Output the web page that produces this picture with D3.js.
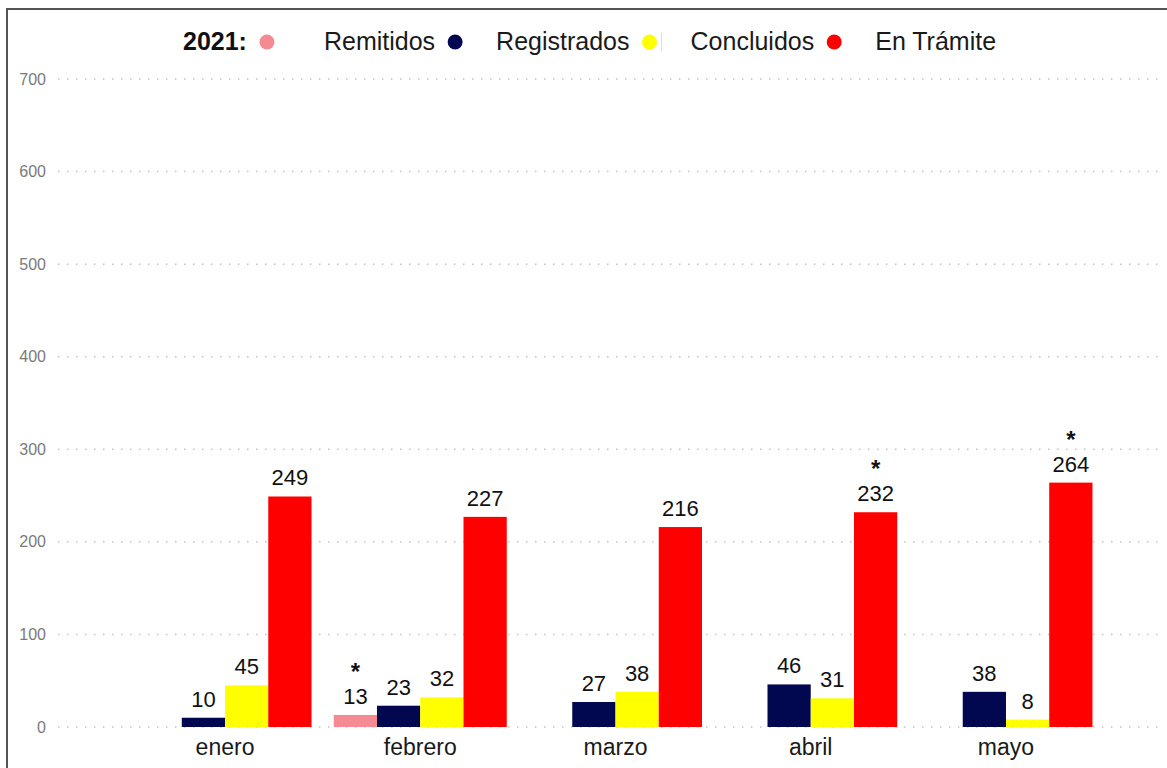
<!DOCTYPE html>
<html>
<head>
<meta charset="utf-8">
<script src="https://cdn.jsdelivr.net/npm/d3@7/dist/d3.min.js"></script>
<style>
  html, body { margin: 0; padding: 0; background: #fff; }
  svg { display: block; font-family: "Liberation Sans", Arial, sans-serif; }
</style>
</head>
<body>
<script>
// datos del gráfico
const months = ['enero', 'febrero', 'marzo', 'abril', 'mayo'];
const seriesNames = ['Remitidos', 'Registrados', 'Concluidos', 'En Trámite'];
const seriesColors = ['#f68a92', '#020850', '#ffff00', '#ff0000'];
const remitidos = [0, 13, 0, 0, 0];
const registrados = [10, 23, 27, 46, 38];
const concluidos = [45, 32, 38, 31, 8];
const enTramite = [249, 227, 216, 232, 264];
// marcas con asterisco: [serie, mes]
const starred = [['Remitidos', 'febrero'], ['En Trámite', 'abril'], ['En Trámite', 'mayo']];
const yTicks = [0, 100, 200, 300, 400, 500, 600, 700];
const legendTitle = '2021:';

const values = [remitidos, registrados, concluidos, enTramite];

const width = 1167, height = 768;
const svg = d3.select('body').append('svg')
    .attr('width', width)
    .attr('height', height);

// marco
svg.append('rect')
    .attr('x', 7).attr('y', 9)
    .attr('width', width + 10).attr('height', height + 10)
    .attr('fill', 'none')
    .attr('stroke', '#555')
    .attr('stroke-width', 2);

// escalas
const y = d3.scaleLinear().domain([0, 700]).range([727, 79]);
const x0 = d3.scaleBand().domain(months).range([127.4, 1103.6])
    .paddingInner(0.114).paddingOuter(0.057);
const x1 = d3.scaleBand().domain(seriesNames).range([0, x0.bandwidth()]);

// líneas de cuadrícula punteadas
const grid = svg.append('g');
grid.selectAll('line')
    .data(yTicks)
    .enter().append('line')
    .attr('x1', 58).attr('x2', 1162)
    .attr('y1', d => y(d)).attr('y2', d => y(d))
    .attr('stroke', '#c4c4c4')
    .attr('stroke-width', 1.5)
    .attr('stroke-dasharray', '1.5,7.5');

// eje Y
const yAxis = svg.append('g')
    .attr('transform', 'translate(46,0)')
    .call(d3.axisLeft(y).tickValues(yTicks).tickSize(0).tickPadding(0));
yAxis.select('.domain').remove();
yAxis.selectAll('text')
    .attr('font-size', 16)
    .attr('font-family', '"Liberation Sans", Arial, sans-serif')
    .attr('fill', '#7a7a7a');

// eje X
const xAxis = svg.append('g')
    .attr('transform', `translate(0,${y(0)})`)
    .call(d3.axisBottom(x0).tickSize(0).tickPadding(12));
xAxis.select('.domain').remove();
xAxis.selectAll('text')
    .attr('font-size', 23)
    .attr('font-family', '"Liberation Sans", Arial, sans-serif')
    .attr('fill', '#1a1a1a')
    .attr('dy', '0.71em');

// datos planos
const flat = [];
months.forEach((m, i) => {
    seriesNames.forEach((s, j) => {
        flat.push({
            month: m, series: s, value: values[j][i], color: seriesColors[j],
            star: starred.some(p => p[0] === s && p[1] === m)
        });
    });
});
const shown = flat.filter(d => d.value > 0);

// barras
svg.append('g').selectAll('rect')
    .data(shown)
    .enter().append('rect')
    .attr('x', d => x0(d.month) + x1(d.series))
    .attr('y', d => y(d.value))
    .attr('width', x1.bandwidth())
    .attr('height', d => y(0) - y(d.value))
    .attr('fill', d => d.color);

// etiquetas de valor
const labels = svg.append('g')
    .attr('font-size', 22)
    .attr('fill', '#111')
    .attr('text-anchor', 'middle');
labels.selectAll('text.val')
    .data(shown)
    .enter().append('text')
    .attr('class', 'val')
    .attr('x', d => x0(d.month) + x1(d.series) + x1.bandwidth() / 2)
    .attr('y', d => y(d.value) - 11)
    .text(d => d.value);
labels.selectAll('text.star')
    .data(shown.filter(d => d.star))
    .enter().append('text')
    .attr('class', 'star')
    .attr('font-size', 24)
    .attr('font-weight', 'bold')
    .attr('x', d => x0(d.month) + x1(d.series) + x1.bandwidth() / 2)
    .attr('y', d => y(d.value) - 35)
    .text('*');

// leyenda
const legend = svg.append('g');
let cx = 183;
const title = legend.append('text')
    .attr('x', cx).attr('y', 50)
    .attr('font-size', 25)
    .attr('font-weight', 'bold')
    .attr('fill', '#111')
    .text(legendTitle);
cx += title.node().getComputedTextLength() + 20;
seriesNames.forEach((s, j) => {
    legend.append('circle')
        .attr('cx', cx).attr('cy', 42).attr('r', 7.5)
        .attr('fill', seriesColors[j]);
    if (j === 2) {
        legend.append('line')
            .attr('x1', cx + 12).attr('x2', cx + 12)
            .attr('y1', 33).attr('y2', 51)
            .attr('stroke', '#ddd').attr('stroke-width', 1);
    }
    cx += (j === 0 ? 57 : 41);
    const t = legend.append('text')
        .attr('x', cx).attr('y', 50)
        .attr('font-size', 25)
        .attr('fill', '#1a1a1a')
        .text(s);
    cx += t.node().getComputedTextLength() + 20;
});
</script>
</body>
</html>
